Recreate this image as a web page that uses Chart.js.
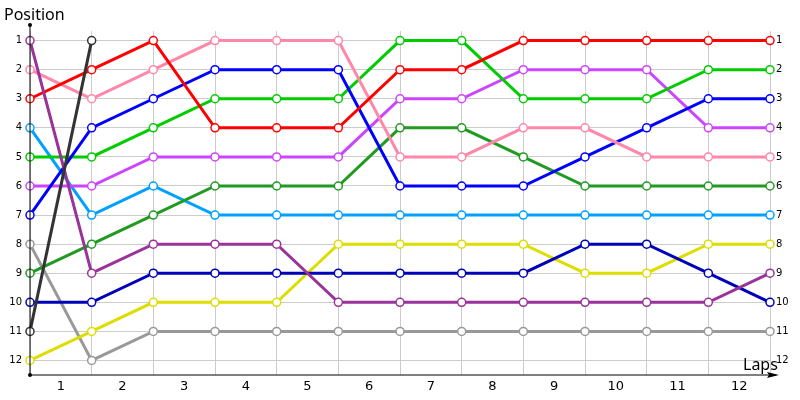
<!DOCTYPE html>
<html>
<head>
<meta charset="utf-8">
<script src="https://cdn.jsdelivr.net/npm/chart.js@4.4.1/dist/chart.umd.min.js"></script>
<style>
	body { margin: 0; background: #fff; }
	#wrap { width: 800px; height: 400px; }
</style>
</head>
<body>
<div id="wrap"><canvas id="lapChart" width="800" height="400"></canvas></div>

<script type="text/javascript">

// position after each lap (index 0 = start grid)
var lapLabels = ['1','2','3','4','5','6','7','8','9','10','11','12'];
var positions = [1,2,3,4,5,6,7,8,9,10,11,12];

var carRed        = [3, 2, 1, 4, 4, 4, 2, 2, 1, 1, 1, 1, 1];
var carPink       = [2, 3, 2, 1, 1, 1, 5, 5, 4, 4, 5, 5, 5];
var carBlue       = [7, 4, 3, 2, 2, 2, 6, 6, 6, 5, 4, 3, 3];
var carGreen      = [5, 5, 4, 3, 3, 3, 1, 1, 3, 3, 3, 2, 2];
var carViolet     = [6, 6, 5, 5, 5, 5, 3, 3, 2, 2, 2, 4, 4];
var carDarkGreen  = [9, 8, 7, 6, 6, 6, 4, 4, 5, 6, 6, 6, 6];
var carSky        = [4, 7, 6, 7, 7, 7, 7, 7, 7, 7, 7, 7, 7];
var carPlum       = [1, 9, 8, 8, 8, 10, 10, 10, 10, 10, 10, 10, 9];
var carNavy       = [10, 10, 9, 9, 9, 9, 9, 9, 9, 8, 8, 9, 10];
var carYellow     = [12, 11, 10, 10, 10, 8, 8, 8, 8, 9, 9, 8, 8];
var carGrey       = [8, 12, 11, 11, 11, 11, 11, 11, 11, 11, 11, 11, 11];
var carBlack      = [11, 1];

var cars = [
	[carBlack, '#333333'],
	[carPlum, '#993399'],
	[carRed, '#ff0000'],
	[carPink, '#ff88aa'],
	[carBlue, '#0000ff'],
	[carGreen, '#00cc00'],
	[carViolet, '#cc44ff'],
	[carDarkGreen, '#229922'],
	[carSky, '#00a0ff'],
	[carNavy, '#0000bb'],
	[carYellow, '#dddd00'],
	[carGrey, '#999999']
];

var datasets = [];
for (i=0; i<cars.length; i++) {
	var pts = [];
	for (j=0; j<cars[i][0].length; j++) pts.push({x: j, y: cars[i][0][j]});
	datasets.push({
		data: pts,
		borderColor: cars[i][1],
		borderWidth: 3,
		pointRadius: 4,
		pointBorderWidth: 1.5,
		pointBorderColor: cars[i][1],
		pointBackgroundColor: '#ffffff',
		clip: false,
		tension: 0
	});
}

var font = 'DejaVu Sans';

// arrows, dots and the two axis captions
var decorations = {
	id: 'decorations',
	afterDraw: function(chart) {
		var c = chart.ctx;
		var a = chart.chartArea;
		c.save();
		c.strokeStyle = '#000';
		c.fillStyle = '#000';
		c.lineWidth = 1;
		c.beginPath();
		c.moveTo(a.left, 25);
		c.lineTo(a.left, a.bottom);
		c.lineTo(776, a.bottom);
		c.stroke();
		c.beginPath();
		c.arc(a.left, 25, 2, 0, Math.PI*2);
		c.arc(a.left, a.bottom, 2, 0, Math.PI*2);
		c.fill();
		c.beginPath();
		c.moveTo(779, a.bottom);
		c.lineTo(767, a.bottom - 3);
		c.lineTo(769, a.bottom);
		c.lineTo(767, a.bottom + 3);
		c.closePath();
		c.fill();
		c.font = '16px "Noto Sans"';
		c.textBaseline = 'middle';
		c.textAlign = 'left';
		c.fillText('Position', 4, 15);
		c.fillText('Laps', 743, 365);
		c.restore();
	}
};

function yScale(pos) {
	return {
		type: 'linear',
		position: pos,
		reverse: true,
		min: 0.67,
		max: 12.5,
		afterBuildTicks: function(scale) {
			scale.ticks = positions.map(function(v) { return {value: v}; });
		},
		afterFit: function(scale) { scale.width = 30; },
		grid: { display: pos == 'left', color: '#cccccc', drawTicks: false },
		border: { display: false },
		ticks: {
			padding: pos == 'left' ? 8 : 6,
			color: '#000',
			font: { family: font, size: 10 },
			callback: function(v) { return v; }
		}
	};
}

var ctx = document.getElementById('lapChart').getContext('2d');
var lapChart = new Chart(ctx, {
	type: 'line',
	data: { datasets: datasets },
	plugins: [decorations],
	options: {
		responsive: false,
		animation: false,
		layout: { padding: { top: 31, left: 0, right: 0, bottom: 0 } },
		plugins: {
			legend: { display: false },
			tooltip: { enabled: false }
		},
		scales: {
			x: {
				type: 'linear',
				min: 0,
				max: 12,
				afterBuildTicks: function(scale) {
					var t = [];
					for (k=0; k<=24; k++) t.push({value: k/2});
					scale.ticks = t;
				},
				afterFit: function(scale) { scale.height = 25; },
				grid: {
					drawTicks: false,
					color: function(c) { return (c.tick && c.tick.value % 1 === 0) ? '#cccccc' : 'rgba(0,0,0,0)'; }
				},
				border: { display: false },
				ticks: {
					padding: 4,
					color: '#000',
					autoSkip: false,
					maxRotation: 0,
					font: { family: font, size: 13 },
					callback: function(v) {
						if (v % 1 === 0) return '';
						return lapLabels[Math.floor(v)];
					}
				}
			},
			y: yScale('left'),
			y2: yScale('right')
		}
	}
});
</script>
</body>
</html>
